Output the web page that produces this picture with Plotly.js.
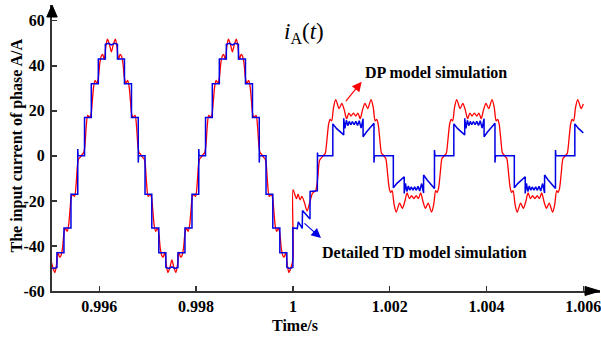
<!DOCTYPE html>
<html><head><meta charset="utf-8">
<script src="https://cdn.plot.ly/plotly-3.0.1.min.js"></script>
<style>html,body{margin:0;padding:0;background:#fff}#plot{width:601px;height:337px}</style>
</head><body><div id="plot"></div>
<script>
// DP model simulation (red): [time s, current A]
var redDP = [
[0.995000,-46.2],[0.995040,-49.5],[0.995082,-51.8],[0.995115,-48.5],[0.995145,-42.8],[0.995180,-45],[0.995210,-44.2],[0.995240,-41],[0.995270,-34.5],[0.995300,-32.2],[0.995335,-33.5],[0.995365,-31],[0.995395,-24],[0.995425,-18],[0.995455,-17.2],[0.995490,-18],[0.995520,-13],[0.995550,-4],[0.995575,-1.3],[0.995600,-0.8],[0.995625,0],
[0.995650,0.8],[0.995675,1.3],[0.995700,4],[0.995730,13],[0.995760,18],[0.995795,17.2],[0.995825,18],[0.995855,24],[0.995885,31],[0.995915,33.5],[0.995950,32.2],[0.995980,34.5],[0.996010,41],[0.996040,44.2],[0.996070,45],[0.996105,42.8],[0.996135,48.5],[0.996168,51.8],[0.996210,49.5],[0.996250,46.2],[0.996290,49.5],[0.996332,51.8],[0.996365,48.5],[0.996395,42.8],[0.996430,45],[0.996460,44.2],[0.996490,41],[0.996520,34.5],[0.996550,32.2],[0.996585,33.5],[0.996615,31],[0.996645,24],[0.996675,18],[0.996705,17.2],[0.996740,18],[0.996770,13],[0.996800,4],[0.996825,1.3],[0.996850,0.8],[0.996875,0],
[0.996900,-0.8],[0.996925,-1.3],[0.996950,-4],[0.996980,-13],[0.997010,-18],[0.997045,-17.2],[0.997075,-18],[0.997105,-24],[0.997135,-31],[0.997165,-33.5],[0.997200,-32.2],[0.997230,-34.5],[0.997260,-41],[0.997290,-44.2],[0.997320,-45],[0.997355,-42.8],[0.997385,-48.5],[0.997418,-51.8],[0.997460,-49.5],[0.997500,-46.2],[0.997540,-49.5],[0.997582,-51.8],[0.997615,-48.5],[0.997645,-42.8],[0.997680,-45],[0.997710,-44.2],[0.997740,-41],[0.997770,-34.5],[0.997800,-32.2],[0.997835,-33.5],[0.997865,-31],[0.997895,-24],[0.997925,-18],[0.997955,-17.2],[0.997990,-18],[0.998020,-13],[0.998050,-4],[0.998075,-1.3],[0.998100,-0.8],[0.998125,0],
[0.998150,0.8],[0.998175,1.3],[0.998200,4],[0.998230,13],[0.998260,18],[0.998295,17.2],[0.998325,18],[0.998355,24],[0.998385,31],[0.998415,33.5],[0.998450,32.2],[0.998480,34.5],[0.998510,41],[0.998540,44.2],[0.998570,45],[0.998605,42.8],[0.998635,48.5],[0.998668,51.8],[0.998710,49.5],[0.998750,46.2],[0.998790,49.5],[0.998832,51.8],[0.998865,48.5],[0.998895,42.8],[0.998930,45],[0.998960,44.2],[0.998990,41],[0.999020,34.5],[0.999050,32.2],[0.999085,33.5],[0.999115,31],[0.999145,24],[0.999175,18],[0.999205,17.2],[0.999240,18],[0.999270,13],[0.999300,4],[0.999325,1.3],[0.999350,0.8],[0.999375,0],
[0.999400,-0.8],[0.999425,-1.3],[0.999450,-4],[0.999480,-13],[0.999510,-18],[0.999545,-17.2],[0.999575,-18],[0.999605,-24],[0.999635,-31],[0.999665,-33.5],[0.999700,-32.2],[0.999730,-34.5],[0.999760,-41],[0.999790,-44.2],[0.999820,-45],[0.999855,-42.8],[0.999885,-48.5],[0.999918,-51.8],[0.999960,-49.5],[1.000000,-46.2],
[1.000002,-15],[1.000045,-17.5],[1.000076,-19],[1.000107,-17],[1.000149,-19.5],[1.000186,-18],[1.000242,-21],[1.000293,-24.5],[1.000345,-21],[1.000407,-16.5],[1.000469,-15.5],[1.000517,-9],[1.000552,-2],
[1.000625,0],[1.000650,0.6],[1.000670,1.2],[1.000705,7.5],[1.000740,14.3],[1.000770,16.2],[1.000800,15.5],[1.000840,21.5],[1.000885,25],[1.000955,21],[1.001010,23.3],[1.001060,20.5],[1.001110,16.5],[1.001157,19],[1.001202,17.7],[1.001250,19],[1.001298,17.7],[1.001343,19],[1.001390,16.5],[1.001440,20.5],[1.001490,23.3],[1.001545,21],[1.001615,25],[1.001660,21.5],[1.001700,15.5],[1.001730,16.2],[1.001760,14.3],[1.001795,7.5],[1.001830,1.2],[1.001855,0.6],[1.001875,0],
[1.001900,-0.6],[1.001920,-1.2],[1.001955,-7.5],[1.001990,-14.3],[1.002020,-16.2],[1.002050,-15.5],[1.002090,-21.5],[1.002135,-25],[1.002205,-21],[1.002260,-23.3],[1.002310,-20.5],[1.002360,-16.5],[1.002407,-19],[1.002452,-17.7],[1.002500,-19],[1.002548,-17.7],[1.002593,-19],[1.002640,-16.5],[1.002690,-20.5],[1.002740,-23.3],[1.002795,-21],[1.002865,-25],[1.002910,-21.5],[1.002950,-15.5],[1.002980,-16.2],[1.003010,-14.3],[1.003045,-7.5],[1.003080,-1.2],[1.003105,-0.6],[1.003125,0],
[1.003150,0.6],[1.003170,1.2],[1.003205,7.5],[1.003240,14.3],[1.003270,16.2],[1.003300,15.5],[1.003340,21.5],[1.003385,25],[1.003455,21],[1.003510,23.3],[1.003560,20.5],[1.003610,16.5],[1.003657,19],[1.003702,17.7],[1.003750,19],[1.003798,17.7],[1.003843,19],[1.003890,16.5],[1.003940,20.5],[1.003990,23.3],[1.004045,21],[1.004115,25],[1.004160,21.5],[1.004200,15.5],[1.004230,16.2],[1.004260,14.3],[1.004295,7.5],[1.004330,1.2],[1.004355,0.6],[1.004375,0],
[1.004400,-0.6],[1.004420,-1.2],[1.004455,-7.5],[1.004490,-14.3],[1.004520,-16.2],[1.004550,-15.5],[1.004590,-21.5],[1.004635,-25],[1.004705,-21],[1.004760,-23.3],[1.004810,-20.5],[1.004860,-16.5],[1.004907,-19],[1.004952,-17.7],[1.005000,-19],[1.005048,-17.7],[1.005093,-19],[1.005140,-16.5],[1.005190,-20.5],[1.005240,-23.3],[1.005295,-21],[1.005365,-25],[1.005410,-21.5],[1.005450,-15.5],[1.005480,-16.2],[1.005510,-14.3],[1.005545,-7.5],[1.005580,-1.2],[1.005605,-0.6],[1.005625,0],
[1.005650,0.6],[1.005670,1.2],[1.005705,7.5],[1.005740,14.3],[1.005770,16.2],[1.005800,15.5],[1.005840,21.5],[1.005885,25],[1.005955,21],[1.006000,23]
];
// Detailed TD model simulation (blue): [time s, current A]
var blueTD = [
[0.995000,-49.5],[0.995060,-50],[0.995125,-49.5],[0.995125,-43],[0.995270,-43],[0.995270,-32],[0.995415,-32],[0.995415,-17],[0.995555,-17],[0.995555,3],[0.995562,0],
[0.995695,0],[0.995695,17],[0.995835,17],[0.995835,32],[0.995980,32],[0.995980,43],[0.996125,43],[0.996125,49.5],[0.996190,50],[0.996250,49.3],[0.996310,50],[0.996375,49.5],[0.996375,43],[0.996520,43],[0.996520,32],[0.996665,32],[0.996665,17],[0.996805,17],[0.996805,-3],[0.996812,0],
[0.996945,0],[0.996945,-17],[0.997085,-17],[0.997085,-32],[0.997230,-32],[0.997230,-43],[0.997375,-43],[0.997375,-49.5],[0.997440,-50],[0.997500,-49.3],[0.997560,-50],[0.997625,-49.5],[0.997625,-43],[0.997770,-43],[0.997770,-32],[0.997915,-32],[0.997915,-17],[0.998055,-17],[0.998055,3],[0.998062,0],
[0.998195,0],[0.998195,17],[0.998335,17],[0.998335,32],[0.998480,32],[0.998480,43],[0.998625,43],[0.998625,49.5],[0.998690,50],[0.998750,49.3],[0.998810,50],[0.998875,49.5],[0.998875,43],[0.999020,43],[0.999020,32],[0.999165,32],[0.999165,17],[0.999305,17],[0.999305,-3],[0.999312,0],
[0.999445,0],[0.999445,-17],[0.999585,-17],[0.999585,-32],[0.999730,-32],[0.999730,-43],[0.999875,-43],[0.999875,-49.5],[0.999940,-50],[1.000000,-49.5],
[1.000000,-32],[1.000090,-32.3],[1.000112,-29.3],[1.000194,-32.2],[1.000198,-24.3],[1.000353,-28],[1.000355,-15.8],[1.000505,-15.5],[1.000508,1.5],[1.000515,0],
[1.000825,0],[1.000825,14.2],[1.000900,12.2],[1.000975,10.6],[1.001050,9.3],[1.001050,16.7],[1.001075,12.2],[1.001105,15.8],[1.001135,13.4],[1.001165,15.3],[1.001195,13.8],[1.001230,15.2],[1.001265,13.8],[1.001300,15.3],[1.001335,13.5],[1.001370,15.6],[1.001410,12.3],[1.001450,16.5],[1.001450,8.5],[1.001520,10.6],[1.001600,12.5],[1.001675,14.5],[1.001675,-3],[1.001685,0],
[1.002075,0],[1.002075,-14.2],[1.002150,-12.2],[1.002225,-10.6],[1.002300,-9.3],[1.002300,-16.7],[1.002325,-12.2],[1.002355,-15.8],[1.002385,-13.4],[1.002415,-15.3],[1.002445,-13.8],[1.002480,-15.2],[1.002515,-13.8],[1.002550,-15.3],[1.002585,-13.5],[1.002620,-15.6],[1.002660,-12.3],[1.002700,-16.5],[1.002700,-8.5],[1.002770,-10.6],[1.002850,-12.5],[1.002925,-14.5],[1.002925,2.6],[1.002935,0],
[1.003325,0],[1.003325,14.2],[1.003400,12.2],[1.003475,10.6],[1.003550,9.3],[1.003550,16.7],[1.003575,12.2],[1.003605,15.8],[1.003635,13.4],[1.003665,15.3],[1.003695,13.8],[1.003730,15.2],[1.003765,13.8],[1.003800,15.3],[1.003835,13.5],[1.003870,15.6],[1.003910,12.3],[1.003950,16.5],[1.003950,8.5],[1.004020,10.6],[1.004100,12.5],[1.004175,14.5],[1.004175,-3],[1.004185,0],
[1.004575,0],[1.004575,-14.2],[1.004650,-12.2],[1.004725,-10.6],[1.004800,-9.3],[1.004800,-16.7],[1.004825,-12.2],[1.004855,-15.8],[1.004885,-13.4],[1.004915,-15.3],[1.004945,-13.8],[1.004980,-15.2],[1.005015,-13.8],[1.005050,-15.3],[1.005085,-13.5],[1.005120,-15.6],[1.005160,-12.3],[1.005200,-16.5],[1.005200,-8.5],[1.005270,-10.6],[1.005350,-12.5],[1.005425,-14.5],[1.005425,2.6],[1.005435,0],
[1.005825,0],[1.005825,14.2],[1.005900,12.2],[1.005975,10.6],[1.006000,10.2]
];
var xTickVals = [0.996, 0.998, 1.000, 1.002, 1.004, 1.006];
var xTickText = ['0.996', '0.998', '1', '1.002', '1.004', '1.006'];
var yTickVals = [-60, -40, -20, 0, 20, 40, 60];
var yTickText = ['-60', '-40', '-20', '0', '20', '40', '60'];

var serif = 'Liberation Serif, Times New Roman, serif';
var boldFont = {family: serif, size: 16, color: '#000', weight: 'bold'};

var traces = [
  {x: redDP.map(function(p){return p[0];}), y: redDP.map(function(p){return p[1];}),
   type: 'scatter', mode: 'lines', line: {color: '#ff0000', width: 1.3, shape: 'spline', smoothing: 0.8},
   hoverinfo: 'skip', showlegend: false},
  {x: blueTD.map(function(p){return p[0];}), y: blueTD.map(function(p){return p[1];}),
   type: 'scatter', mode: 'lines', line: {color: '#0000e6', width: 1.5},
   hoverinfo: 'skip', showlegend: false}
];

var layout = {
  width: 601, height: 337,
  margin: {l: 52, r: 1, t: 5, b: 46},
  paper_bgcolor: '#fff', plot_bgcolor: '#fff',
  showlegend: false,
  xaxis: {range: [0.995023, 1.006345], tickvals: xTickVals, ticktext: xTickText,
    ticks: 'inside', ticklen: 5, tickwidth: 1.5, tickcolor: '#333',
    showline: true, linecolor: '#333', linewidth: 2, showgrid: false, zeroline: false,
    tickfont: boldFont, ticklabelstandoff: 0, ticklabeloverflow: 'allow'},
  yaxis: {range: [-60, 66.97], tickvals: yTickVals, ticktext: yTickText,
    ticks: 'inside', ticklen: 5, tickwidth: 1.5, tickcolor: '#333',
    showline: true, linecolor: '#333', linewidth: 2, showgrid: false, zeroline: false,
    tickfont: boldFont, ticklabelstandoff: 2},
  shapes: [
    {type: 'path', xref: 'paper', yref: 'paper', path: 'M -0.0095 0.958 L 0 1 L 0.0095 0.958 Z',
     fillcolor: '#000', line: {color: '#000', width: 1}},
    {type: 'path', xref: 'paper', yref: 'paper', path: 'M 0.9726 0.0157 L 1 0 L 0.9726 -0.0157 Z',
     fillcolor: '#000', line: {color: '#000', width: 1}}
  ],
  annotations: [
    {xref: 'paper', yref: 'paper', x: -0.0639, y: 0.5087, text: 'The input current of phase A/A',
     textangle: -90, showarrow: false, font: boldFont, xanchor: 'center', yanchor: 'middle'},
    {xref: 'paper', yref: 'paper', x: 0.4434, y: -0.12, text: 'Time/s',
     showarrow: false, font: boldFont, xanchor: 'center', yanchor: 'middle'},
    {xref: 'x', yref: 'y', x: 1.000229, y: 54.5, text: '<i>i</i><sub>A</sub>(<i>t</i>)',
     showarrow: false, font: {family: serif, size: 23, color: '#000'}, xanchor: 'center', yanchor: 'middle'},
    {xref: 'x', yref: 'y', x: 1.001448, y: 36.8, text: 'DP model simulation',
     showarrow: false, font: boldFont, xanchor: 'left', yanchor: 'middle'},
    {xref: 'x', yref: 'y', x: 1.00056, y: -43.1, text: 'Detailed TD model simulation',
     showarrow: false, font: boldFont, xanchor: 'left', yanchor: 'middle'},
    {xref: 'x', yref: 'y', x: 1.001421, y: 32.9, text: '', showarrow: true,
     ax: -17, ay: 21, arrowhead: 2, arrowsize: 1.6, arrowwidth: 1.2, arrowcolor: '#ff0000'},
    {xref: 'x', yref: 'y', x: 1.00058, y: -36.5, text: '', showarrow: true,
     ax: -18, ay: -16, arrowhead: 2, arrowsize: 1.6, arrowwidth: 1.2, arrowcolor: '#0000e6'}
  ]
};

Plotly.newPlot('plot', traces, layout, {staticPlot: true, displayModeBar: false});
</script>
</body></html>
